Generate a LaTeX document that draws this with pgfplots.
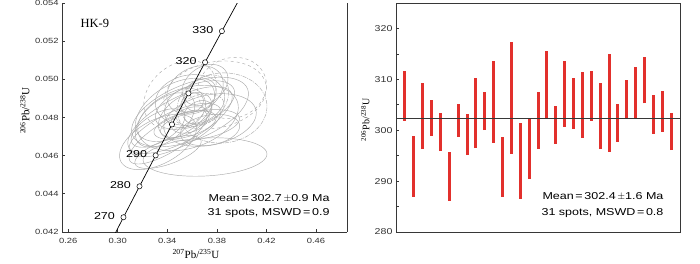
\documentclass[border=0pt]{standalone}
\usepackage{fontspec}
\setmainfont[FakeStretch=1.25]{Liberation Sans}
\newfontfamily\serifw{Liberation Serif}
\usepackage{pgfplots}
\pgfplotsset{compat=1.18}
\definecolor{barred}{RGB}{226,48,44}
\definecolor{ellgray}{RGB}{170,170,170}
\definecolor{axgray}{RGB}{55,55,55}
\definecolor{tickgray}{RGB}{50,50,50}
% ellipse: #1,#2 centre in picture px, #3,#4 semi-axes (px), #5 tilt (deg), #6 style
\newcommand{\ellp}[6]{%
 \addplot[ellgray, line width=0.45pt, #6, domain=0:360, samples=61, smooth]
  ({0.34+0.000807*((#1-167.3) + #3*cos(x)*cos(#5) - #4*sin(x)*sin(#5))},
   {0.054-0.0000524*((#2-3) - (#3*cos(x)*sin(#5) + #4*sin(x)*cos(#5)))});
}
\pgfplotsset{/pgf/number format/assume math mode=true}
\begin{document}
\begin{tikzpicture}
\useasboundingbox (0pt,0pt) rectangle (700pt,263pt);
% ---------------- left: concordia ----------------
\begin{axis}[
  at={(62pt,31pt)}, anchor=south west, scale only axis,
  width=285pt, height=229pt,
  xmin=0.255, xmax=0.485, ymin=0.042, ymax=0.054,
  axis x line*=bottom, axis y line*=box,
  x axis line style={-, axgray, line width=0.9pt},
  y axis line style={-, axgray, line width=0.9pt},
  xtick={0.26,0.30,0.34,0.38,0.42,0.46},
  ytick={0.042,0.044,0.046,0.048,0.050,0.052,0.054},
  xtick pos=bottom, ytick pos=left,
  tick align=inside, major tick length=3pt,
  tick style={axgray, line width=0.7pt},
  scaled ticks=false,
  xticklabel style={/pgf/number format/.cd, fixed, fixed zerofill, precision=2},
  yticklabel style={/pgf/number format/.cd, fixed, fixed zerofill, precision=3},
  ticklabel style={font=\fontsize{7.5}{8}\selectfont, text=tickgray},
  xticklabel shift=3pt,
  xlabel={\serifw\fontsize{11}{12}\selectfont\textsuperscript{207}Pb/\textsuperscript{235}U},
  ylabel={\serifw\fontsize{11}{12}\selectfont\textsuperscript{206}Pb/\textsuperscript{238}U},
  xlabel style={at={(axis description cs:0.47,-0.095)}, anchor=center},
  ylabel style={at={(axis description cs:-0.13,0.53)}, anchor=center},
  clip=true,
]
% error ellipses
\ellp{190}{112}{62}{28}{22}{}
\ellp{205}{157}{62}{19}{3}{}
\ellp{215}{95}{52}{33}{12}{dashed}
\ellp{180}{120}{58}{22}{28}{}
\ellp{195}{105}{42}{20}{22}{}
\ellp{185}{115}{30}{18}{35}{}
\ellp{200}{110}{25}{15}{20}{dash pattern=on 3pt off 1.5pt}
\ellp{190}{100}{35}{25}{10}{}
\ellp{175}{130}{50}{18}{25}{}
\ellp{210}{120}{47}{25}{12}{}
\ellp{200}{125}{40}{14}{10}{}
\ellp{168}{137}{45}{15}{32}{}
\ellp{195}{90}{30}{22}{30}{}
\ellp{185}{108}{22}{18}{40}{}
\ellp{205}{100}{28}{20}{50}{dash pattern=on 4pt off 1pt on 1pt off 1pt}
\ellp{190}{120}{20}{12}{20}{}
\ellp{198}{112}{15}{10}{30}{}
\ellp{180}{95}{40}{30}{40}{dashed}
\ellp{158}{142}{42}{22}{28}{}
\ellp{222}{108}{45}{35}{5}{dash pattern=on 4pt off 1pt on 1pt off 1pt}
\ellp{185}{125}{32}{12}{15}{}
\ellp{175}{110}{44}{25}{32}{}
\ellp{200}{95}{18}{14}{45}{}
\ellp{210}{130}{30}{15}{10}{}
\ellp{165}{120}{35}{20}{40}{}
\ellp{192}{103}{12}{9}{30}{}
\ellp{188}{118}{52}{30}{18}{}
\ellp{232}{88}{35}{30}{20}{dashed}
\ellp{168}{152}{35}{12}{20}{}
\ellp{205}{85}{25}{18}{35}{}
\ellp{158}{128}{30}{14}{30}{}
% concordia
\addplot[black, line width=0.7pt] coordinates {
 (0.29183,0.041157) (0.30461,0.042773) (0.31753,0.044392) (0.33058,0.046014)
 (0.34375,0.047637) (0.35705,0.049264) (0.37045,0.050893) (0.38403,0.052524)
 (0.39778,0.054158)};
\addplot[only marks, mark=*, mark size=2.6pt,
  mark options={fill=white, draw=black, line width=0.5pt},
  nodes near coords, point meta=explicit symbolic,
  nodes near coords style={anchor=east, xshift=-5pt, yshift=1.5pt,
    font=\fontsize{10}{11}\selectfont, text=black}]
 coordinates {
 (0.30461,0.042773) [270] (0.31753,0.044392) [280] (0.33058,0.046014) [290]
 (0.37045,0.050893) [320] (0.38403,0.052524) [330]};
\addplot[only marks, mark=*, mark size=2.6pt,
  mark options={fill=white, draw=black, line width=0.5pt}]
 coordinates {(0.34375,0.047637) (0.35705,0.049264)};
\node[anchor=base west, font=\serifw\fontsize{12.5}{13}\selectfont]
  at (axis description cs:0.053,0.891) {HK-9};
\node[anchor=base east, font=\fontsize{10}{11}\selectfont]
  at (axis description cs:0.951,0.135) {Mean\,=\,302.7\,$\pm$0.9 Ma};
\node[anchor=base east, font=\fontsize{10}{11}\selectfont]
  at (axis description cs:0.951,0.074) {31 spots, MSWD\,=\,0.9};
\end{axis}
% ---------------- right: weighted mean ----------------
\begin{axis}[
  at={(396pt,31pt)}, anchor=south west, scale only axis,
  width=284pt, height=229pt,
  xmin=0, xmax=32, ymin=280, ymax=325,
  xtick=\empty,
  ytick={280,290,300,310,320},
  minor ytick={285,295,305,315},
  ytick pos=left,
  tick align=inside, major tick length=3pt, minor tick length=3pt,
  tick style={axgray, line width=0.7pt},
  axis line style={axgray, line width=0.9pt},
  ticklabel style={font=\fontsize{8.5}{9}\selectfont, text=tickgray},
  ylabel={\serifw\fontsize{10}{11}\selectfont\textsuperscript{206}Pb/\textsuperscript{238}U},
  ylabel style={at={(axis description cs:-0.108,0.49)}, anchor=center},
  unbounded coords=jump,
]
\addplot[barred, line width=3pt] table[row sep=\\] {
x y\\
1 301.9\\ 1 311.6\\ 1 nan\\
2 286.9\\ 2 298.9\\ 2 nan\\
3 296.3\\ 3 309.2\\ 3 nan\\
4 298.9\\ 4 306.0\\ 4 nan\\
5 295.9\\ 5 303.3\\ 5 nan\\
6 286.1\\ 6 295.8\\ 6 nan\\
7 298.7\\ 7 305.1\\ 7 nan\\
8 295.1\\ 8 303.1\\ 8 nan\\
9 296.5\\ 9 310.2\\ 9 nan\\
10 300.0\\ 10 307.5\\ 10 nan\\
11 297.5\\ 11 313.7\\ 11 nan\\
12 286.9\\ 12 298.7\\ 12 nan\\
13 295.4\\ 13 317.4\\ 13 nan\\
14 286.5\\ 14 301.4\\ 14 nan\\
15 290.4\\ 15 302.5\\ 15 nan\\
16 296.3\\ 16 307.6\\ 16 nan\\
17 302.5\\ 17 315.6\\ 17 nan\\
18 297.3\\ 18 304.8\\ 18 nan\\
19 300.7\\ 19 313.7\\ 19 nan\\
20 300.3\\ 20 310.2\\ 20 nan\\
21 298.5\\ 21 311.4\\ 21 nan\\
22 301.9\\ 22 311.6\\ 22 nan\\
23 296.3\\ 23 309.2\\ 23 nan\\
24 295.8\\ 24 315.0\\ 24 nan\\
25 297.7\\ 25 305.2\\ 25 nan\\
26 302.3\\ 26 309.9\\ 26 nan\\
27 302.5\\ 27 312.5\\ 27 nan\\
28 305.3\\ 28 314.4\\ 28 nan\\
29 299.3\\ 29 307.0\\ 29 nan\\
30 299.7\\ 30 307.8\\ 30 nan\\
31 296.1\\ 31 303.3\\
};
\addplot[axgray, line width=0.9pt] coordinates {(0,302.4) (32,302.4)};
\node[anchor=base east, font=\fontsize{10}{11}\selectfont]
  at (axis description cs:0.954,0.140) {Mean\,=\,302.4\,$\pm$1.6 Ma};
\node[anchor=base east, font=\fontsize{10}{11}\selectfont]
  at (axis description cs:0.954,0.074) {31 spots, MSWD\,=\,0.8};
\end{axis}
\end{tikzpicture}
\end{document}
